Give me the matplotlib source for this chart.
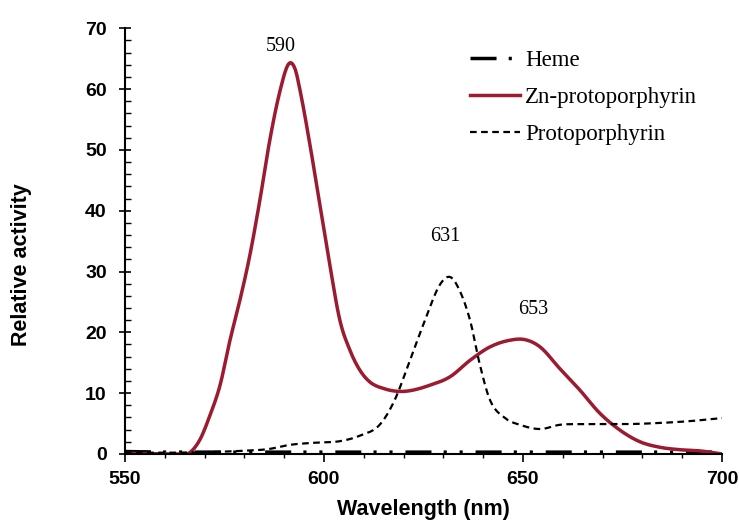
import numpy as np
import matplotlib.pyplot as plt
from matplotlib.ticker import MultipleLocator

# Zn-protoporphyrin
zn_wl = [550, 560, 566, 568.8, 571.4, 573.9, 576.4, 578.9, 581.4, 583.9, 586.4, 589,
         591.2, 592.7, 594, 596.5, 599, 601.5, 604, 606.5, 609, 611.6, 615.3, 618.5,
         621.6, 626.6, 631.7, 636.7, 641.7, 646.7, 650.5, 654.3, 659.3, 664.3, 669.3,
         674.4, 679.4, 684.4, 689.4, 694.5, 700]
zn_val = [0.1, 0.0, 0.1, 2.3, 6.4, 11.3, 18.7, 25.3, 32.7, 41.7, 51.6, 59.8,
          64.2, 63.4, 59.8, 50.8, 40.9, 31.0, 22.0, 17.1, 13.8, 11.8, 10.7, 10.3,
          10.4, 11.3, 12.7, 15.4, 17.6, 18.7, 18.8, 17.6, 14.0, 10.5, 6.7,
          3.9, 2.0, 1.1, 0.7, 0.5, 0.0]

# Protoporphyrin
pp_wl = [550, 560, 570, 579, 586, 591.5, 596.5, 604, 609, 614, 617.8, 621.6, 625.4,
         629.1, 631.7, 634, 636.7, 639.2, 641.7, 645.5, 649.2, 654.3, 659.3, 664.3,
         674.4, 684.4, 691.9, 700]
pp_val = [0.2, 0.2, 0.3, 0.5, 0.8, 1.5, 1.8, 2.1, 3.0, 4.8, 8.9, 15.4, 22.0,
          27.8, 29.1, 27.0, 22.0, 14.6, 8.9, 5.9, 4.8, 4.1, 4.8, 4.9,
          4.9, 5.1, 5.4, 5.9]

# Heme
heme_wl = [550, 560, 580, 600, 620, 640, 660, 680, 700]
heme_val = [0.4, 0.3, 0.3, 0.3, 0.3, 0.3, 0.3, 0.3, 0.3]

peak_labels = ["590", "631", "653"]
peak_x = [589.2, 630.6, 652.5]
peak_y = [67.0, 35.7, 23.7]


def smooth(x, y, n=400):
    # cubic hermite through the read points
    x = np.asarray(x, float)
    y = np.asarray(y, float)
    xs = np.linspace(x[0], x[-1], n)
    h = np.diff(x)
    d = np.diff(y) / h
    m = np.zeros_like(y)
    m[1:-1] = (d[:-1] + d[1:]) / 2
    m[0], m[-1] = d[0], d[-1]
    for i in range(len(d)):
        if d[i] == 0:
            m[i] = m[i + 1] = 0
    idx = np.clip(np.searchsorted(x, xs) - 1, 0, len(x) - 2)
    t = (xs - x[idx]) / h[idx]
    h00 = 2 * t**3 - 3 * t**2 + 1
    h10 = t**3 - 2 * t**2 + t
    h01 = -2 * t**3 + 3 * t**2
    h11 = t**3 - t**2
    ys = h00 * y[idx] + h10 * h[idx] * m[idx] + h01 * y[idx + 1] + h11 * h[idx] * m[idx + 1]
    return xs, np.maximum(ys, 0)


fig = plt.figure(figsize=(7.39, 5.23), dpi=100)
ax = fig.add_axes([0.169, 0.132, 0.808, 0.814])

ax.plot(heme_wl, heme_val, color="black", lw=2.5, solid_capstyle="butt",
        dash_capstyle="butt", dashes=(7.5, 3.5, 0.9, 3.7, 0.9, 3.7), label="Heme")
x, y = smooth(zn_wl, zn_val)
ax.plot(x, y, color="#9b1b30", lw=2.5, label="Zn-protoporphyrin")
x, y = smooth(pp_wl, pp_val)
ax.plot(x, y, color="black", lw=1.6, dashes=(3, 2), label="Protoporphyrin")

for lab, px, py in zip(peak_labels, peak_x, peak_y):
    ax.text(px, py, lab, ha="center", va="center", fontsize=14.5,
            family="Liberation Serif")

ax.set_xlim(550, 700)
ax.set_ylim(0, 70)
ax.xaxis.set_major_locator(MultipleLocator(50))
ax.xaxis.set_minor_locator(MultipleLocator(10))
ax.yaxis.set_major_locator(MultipleLocator(10))
ax.yaxis.set_minor_locator(MultipleLocator(2))
ax.spines["top"].set_visible(False)
ax.spines["right"].set_visible(False)
ax.tick_params(axis="x", which="major", direction="out", length=6, width=1.2, pad=6)
ax.tick_params(axis="x", which="minor", direction="out", length=3, width=1)
ax.tick_params(axis="y", which="major", direction="inout", length=8, width=1.2, pad=9)
ax.tick_params(axis="y", which="minor", direction="in", length=4, width=1)
for s in ["left", "bottom"]:
    ax.spines[s].set_linewidth(1.5)

for t in ax.get_xticklabels() + ax.get_yticklabels():
    t.set_family("Liberation Sans")
    t.set_fontweight("bold")
    t.set_fontsize(14)

ax.set_xlabel("Wavelength (nm)", family="Liberation Sans", fontweight="bold",
              fontsize=15.5)
ax.set_ylabel("Relative activity", family="Liberation Sans", fontweight="bold",
              fontsize=15.5)
ax.xaxis.set_label_coords(0.5, -0.105)
ax.yaxis.set_label_coords(-0.155, 0.444)

ax.legend(loc="upper left", bbox_to_anchor=(0.578, 0.948), frameon=False,
          prop={"family": "Liberation Serif", "size": 16.5},
          borderpad=0, borderaxespad=0,
          handlelength=2.2, handletextpad=0.2, labelspacing=0.68)

fig.savefig("out.png", dpi=100)
